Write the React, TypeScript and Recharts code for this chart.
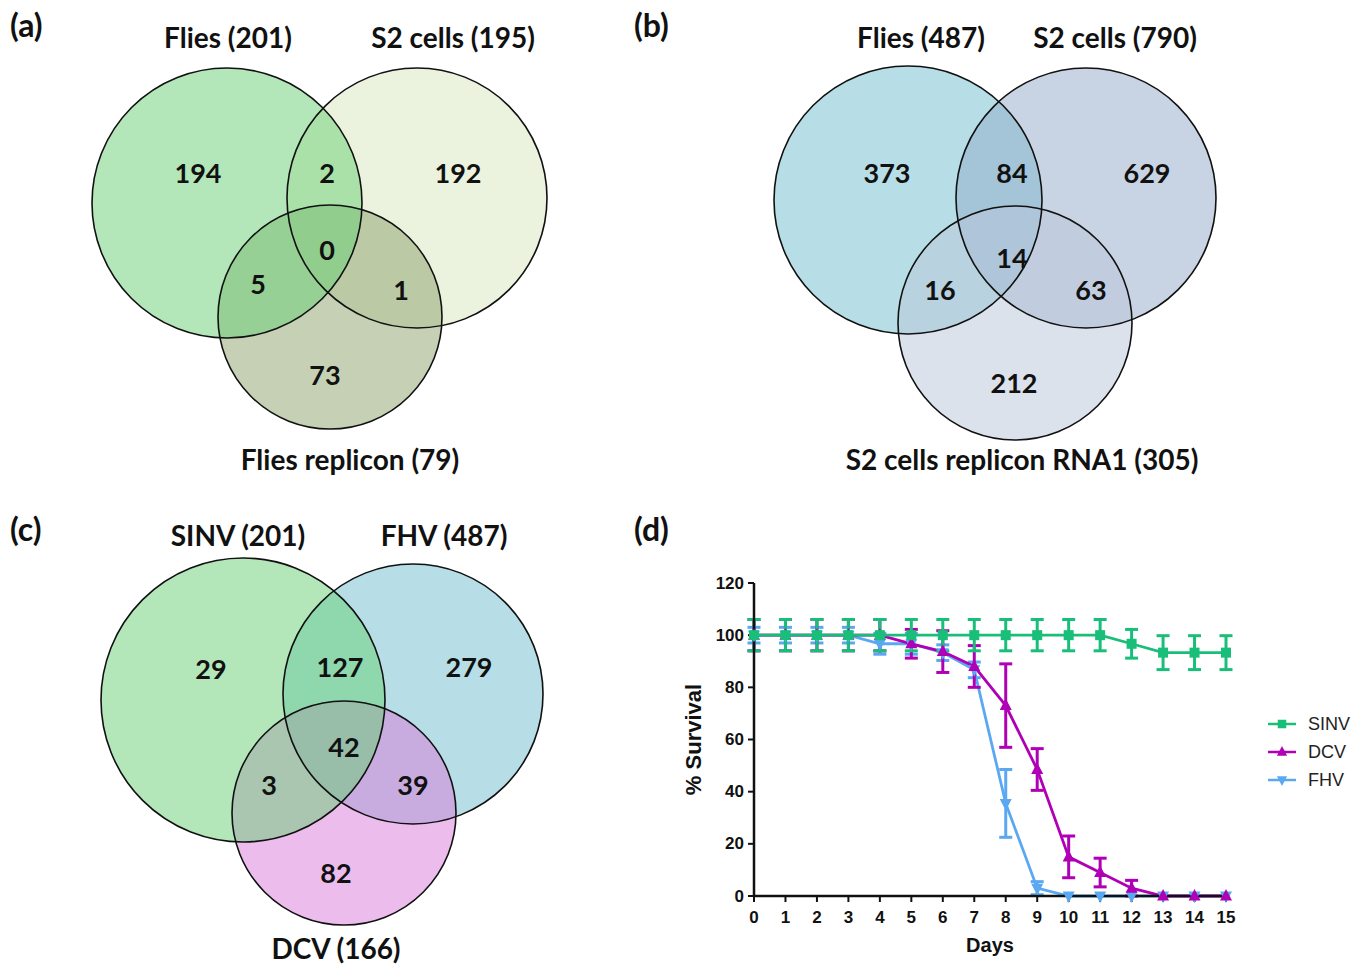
import React from "react";
import {
  ScatterChart,
  Scatter,
  LineChart,
  Line,
  XAxis,
  YAxis,
  ErrorBar,
  Legend,
} from "recharts";

const VENN_FONT = "Lato, 'Open Sans', sans-serif";
const PLOT_FONT = "'Liberation Sans', Arial, sans-serif";

// region order: only 1, only 2, only 3, 1&2, 1&3, 2&3, all three
const setsA = ["Flies (201)", "S2 cells (195)", "Flies replicon (79)"];
const countsA = [194, 192, 73, 2, 5, 1, 0];

const setsB = ["Flies (487)", "S2 cells (790)", "S2 cells replicon RNA1 (305)"];
const countsB = [373, 629, 212, 84, 16, 63, 14];

const setsC = ["SINV (201)", "FHV (487)", "DCV (166)"];
const countsC = [29, 279, 82, 127, 3, 39, 42];

// survival, panel (d)
const days = [0, 1, 2, 3, 4, 5, 6, 7, 8, 9, 10, 11, 12, 13, 14, 15];
const yTicks = [0, 20, 40, 60, 80, 100, 120];
const sinv = [100, 100, 100, 100, 100, 100, 100, 100, 100, 100, 100, 100, 96.7, 93.3, 93.3, 93.3];
const sinvErr = [6, 6, 6, 6, 6, 6, 6, 6, 6, 6, 6, 6, 5.5, 6.5, 6.5, 6.5];
const dcv = [100, 100, 100, 100, 100, 96.7, 93.7, 88, 73, 48.5, 15, 9, 3, 0, 0, 0];
const dcvErr = [6, 6, 6, 6, 6, 5.5, 8, 8, 16, 8, 8, 5.5, 3, 0, 0, 0];
const fhv = [100, 100, 100, 100, 96.7, 96.7, 93.3, 86.7, 35.5, 3, 0, 0, 0, 0, 0, 0];
const fhvErr = [3, 3, 3, 3, 4, 4, 3, 3, 13, 2.5, 0, 0, 0, 0, 0, 0];

const GREEN = "#19be79";
const MAGENTA = "#b000b5";
const BLUE = "#5aa8f2";

// venn geometry (chart units = px inside each panel)
const VENN_W = 620;
const VENN_H = 480;

const layoutA = {
  circles: [[227, 203, 135], [417, 198, 130], [330, 317, 112]],
  regions: [[198, 172], [458, 172], [325, 374], [327, 172], [258, 283], [401, 289], [327, 249]],
  titles: [[228, 37], [453, 37], [350, 459]],
  fills: ["#67cf73", "#d7e5bd", "#8ba169"],
  order: [1, 2, 0],
};
const layoutB = {
  circles: [[288, 200, 134], [466, 198, 130], [395, 323, 117]],
  regions: [[267, 172], [527, 172], [394, 382], [392, 172], [320, 289], [471, 289], [392, 257]],
  titles: [[301, 37], [495, 37], [402, 459]],
  fills: ["#6fbdcd", "#91a9c9", "#b9c5d9"],
  order: [0, 1, 2],
};
const layoutC = {
  circles: [[243, 203, 142], [413, 197, 130], [344, 316, 112]],
  regions: [[211, 171], [469, 169], [336, 375], [340, 169], [269, 287], [413, 287], [344, 249]],
  titles: [[238, 38], [444, 38], [336, 451]],
  fills: ["#67cf73", "#6fbdcd", "#d979d9"],
  order: [1, 2, 0],
};

const FillShape = (p: any) => (
  <circle cx={p.cx} cy={p.cy} r={p.payload.r} fill={p.payload.fill} fillOpacity={0.5} stroke="none" />
);
const RingShape = (p: any) => (
  <circle cx={p.cx} cy={p.cy} r={p.payload.r} fill="none" stroke="#111" strokeWidth={1.6} />
);
const VennText = (size: number) => (p: any) => (
  <text
    x={p.cx}
    y={p.cy}
    textAnchor="middle"
    dominantBaseline="central"
    fontFamily={VENN_FONT}
    fontWeight={700}
    fontSize={size}
    fill="#111"
  >
    {p.payload.label}
  </text>
);
const CountShape = VennText(27);
const TitleShape = VennText(28);

function PanelTag({ text, left, top }: { text: string; left: number; top: number }) {
  return (
    <div
      style={{
        position: "absolute",
        left,
        top,
        fontFamily: VENN_FONT,
        fontWeight: 700,
        fontSize: 32,
        lineHeight: "34px",
        color: "#111",
      }}
    >
      {text}
    </div>
  );
}

function VennPanel({ left, top, sets, counts, layout }: any) {
  const circles = layout.order.map((i: number) => ({
    x: layout.circles[i][0],
    y: layout.circles[i][1],
    r: layout.circles[i][2],
    fill: layout.fills[i],
  }));
  const regions = counts.map((c: number, i: number) => ({
    x: layout.regions[i][0],
    y: layout.regions[i][1],
    label: String(c),
  }));
  const titles = sets.map((s: string, i: number) => ({
    x: layout.titles[i][0],
    y: layout.titles[i][1],
    label: s,
  }));
  return (
    <div style={{ position: "absolute", left, top, width: VENN_W, height: VENN_H }}>
      <ScatterChart width={VENN_W} height={VENN_H} margin={{ top: 0, right: 0, bottom: 0, left: 0 }}>
        <XAxis type="number" dataKey="x" domain={[0, VENN_W]} hide />
        <YAxis type="number" dataKey="y" domain={[0, VENN_H]} reversed hide />
        <Scatter data={circles} shape={FillShape} isAnimationActive={false} />
        <Scatter data={circles} shape={RingShape} isAnimationActive={false} />
        <Scatter data={regions} shape={CountShape} isAnimationActive={false} />
        <Scatter data={titles} shape={TitleShape} isAnimationActive={false} />
      </ScatterChart>
    </div>
  );
}

const rows = days.map((d, i) => ({
  day: d,
  sinv: sinv[i],
  sinvErr: sinvErr[i],
  dcv: dcv[i],
  dcvErr: dcvErr[i],
  fhv: fhv[i],
  fhvErr: fhvErr[i],
}));

const SERIES = [
  { key: "sinv", name: "SINV", color: GREEN, marker: "square" },
  { key: "dcv", name: "DCV", color: MAGENTA, marker: "up" },
  { key: "fhv", name: "FHV", color: BLUE, marker: "down" },
];

function marker(kind: string, cx: number, cy: number, color: string, s = 1) {
  if (kind === "square") {
    return <rect x={cx - 5 * s} y={cy - 5 * s} width={10 * s} height={10 * s} fill={color} />;
  }
  if (kind === "up") {
    return (
      <polygon
        points={`${cx},${cy - 7 * s} ${cx - 6 * s},${cy + 4.5 * s} ${cx + 6 * s},${cy + 4.5 * s}`}
        fill={color}
      />
    );
  }
  return (
    <polygon
      points={`${cx},${cy + 7 * s} ${cx - 6 * s},${cy - 4.5 * s} ${cx + 6 * s},${cy - 4.5 * s}`}
      fill={color}
    />
  );
}

const makeDot = (kind: string, color: string) => (props: any) => {
  const { cx, cy, index } = props;
  if (cx == null || cy == null) return <g key={`d-${kind}-${index}`} />;
  return <g key={`d-${kind}-${index}`}>{marker(kind, cx, cy, color)}</g>;
};

const renderLegend = () => (
  <div style={{ fontFamily: PLOT_FONT, fontSize: 18, color: "#222" }}>
    {SERIES.map((s) => (
      <div key={s.key} style={{ display: "flex", alignItems: "center", height: 28 }}>
        <svg width={28} height={16}>
          <line x1={0} y1={8} x2={28} y2={8} stroke={s.color} strokeWidth={2.5} />
          {marker(s.marker, 14, 8, s.color, 0.85)}
        </svg>
        <span style={{ marginLeft: 12 }}>{s.name}</span>
      </div>
    ))}
  </div>
);

const XTick = (p: any) => (
  <text
    x={p.x}
    y={p.y + 19}
    textAnchor="middle"
    fontFamily={PLOT_FONT}
    fontWeight={700}
    fontSize={17}
    fill="#111"
  >
    {p.payload.value}
  </text>
);
const YTick = (p: any) => (
  <text
    x={p.x}
    y={p.y}
    textAnchor="end"
    dominantBaseline="central"
    fontFamily={PLOT_FONT}
    fontWeight={700}
    fontSize={17}
    fill="#111"
  >
    {p.payload.value}
  </text>
);

function SurvivalPanel() {
  // draw order: FHV underneath, SINV on top
  const drawOrder = [SERIES[2], SERIES[1], SERIES[0]];
  return (
    <div style={{ position: "absolute", left: 680, top: 560 }}>
      <LineChart width={689} height={400} data={rows} margin={{ top: 23, right: 143, bottom: 0, left: 0 }}>
        <XAxis
          dataKey="day"
          type="number"
          domain={[0, 15]}
          ticks={days}
          interval={0}
          height={64}
          axisLine={{ stroke: "#111", strokeWidth: 2.5 }}
          tickLine={{ stroke: "#111", strokeWidth: 2 }}
          tickSize={6}
          tickMargin={2}
          tick={XTick}
          label={{
            value: "Days",
            position: "insideBottom",
            offset: 8,
            fontSize: 20,
            fontWeight: 700,
            fontFamily: PLOT_FONT,
            fill: "#111",
          }}
        />
        <YAxis
          type="number"
          domain={[0, 120]}
          ticks={yTicks}
          width={74}
          axisLine={{ stroke: "#111", strokeWidth: 2.5 }}
          tickLine={{ stroke: "#111", strokeWidth: 2 }}
          tickSize={6}
          tickMargin={4}
          tick={YTick}
          label={{
            value: "% Survival",
            angle: -90,
            position: "insideLeft",
            offset: 13,
            textAnchor: "middle",
            fontSize: 22,
            fontWeight: 700,
            fontFamily: PLOT_FONT,
            fill: "#111",
          }}
        />
        <Legend
          content={renderLegend}
          layout="vertical"
          align="center"
          verticalAlign="middle"
          wrapperStyle={{ left: 588, top: 150, width: 100 }}
        />
        {drawOrder.map((s) => (
          <Line
            key={s.key}
            dataKey={s.key}
            name={s.name}
            stroke={s.color}
            strokeWidth={2.8}
            dot={makeDot(s.marker, s.color)}
            activeDot={false}
            isAnimationActive={false}
          >
            <ErrorBar dataKey={`${s.key}Err`} direction="y" width={6.5} strokeWidth={3} stroke={s.color} />
          </Line>
        ))}
      </LineChart>
    </div>
  );
}

export default function App() {
  return (
    <div style={{ position: "absolute", left: 0, top: 0, width: 1369, height: 965, background: "#fff", overflow: "hidden" }}>
      <VennPanel left={0} top={0} sets={setsA} counts={countsA} layout={layoutA} />
      <VennPanel left={620} top={0} sets={setsB} counts={countsB} layout={layoutB} />
      <VennPanel left={0} top={497} sets={setsC} counts={countsC} layout={layoutC} />
      <SurvivalPanel />
      <PanelTag text="(a)" left={10} top={8} />
      <PanelTag text="(b)" left={634} top={8} />
      <PanelTag text="(c)" left={10} top={512} />
      <PanelTag text="(d)" left={634} top={512} />
    </div>
  );
}
